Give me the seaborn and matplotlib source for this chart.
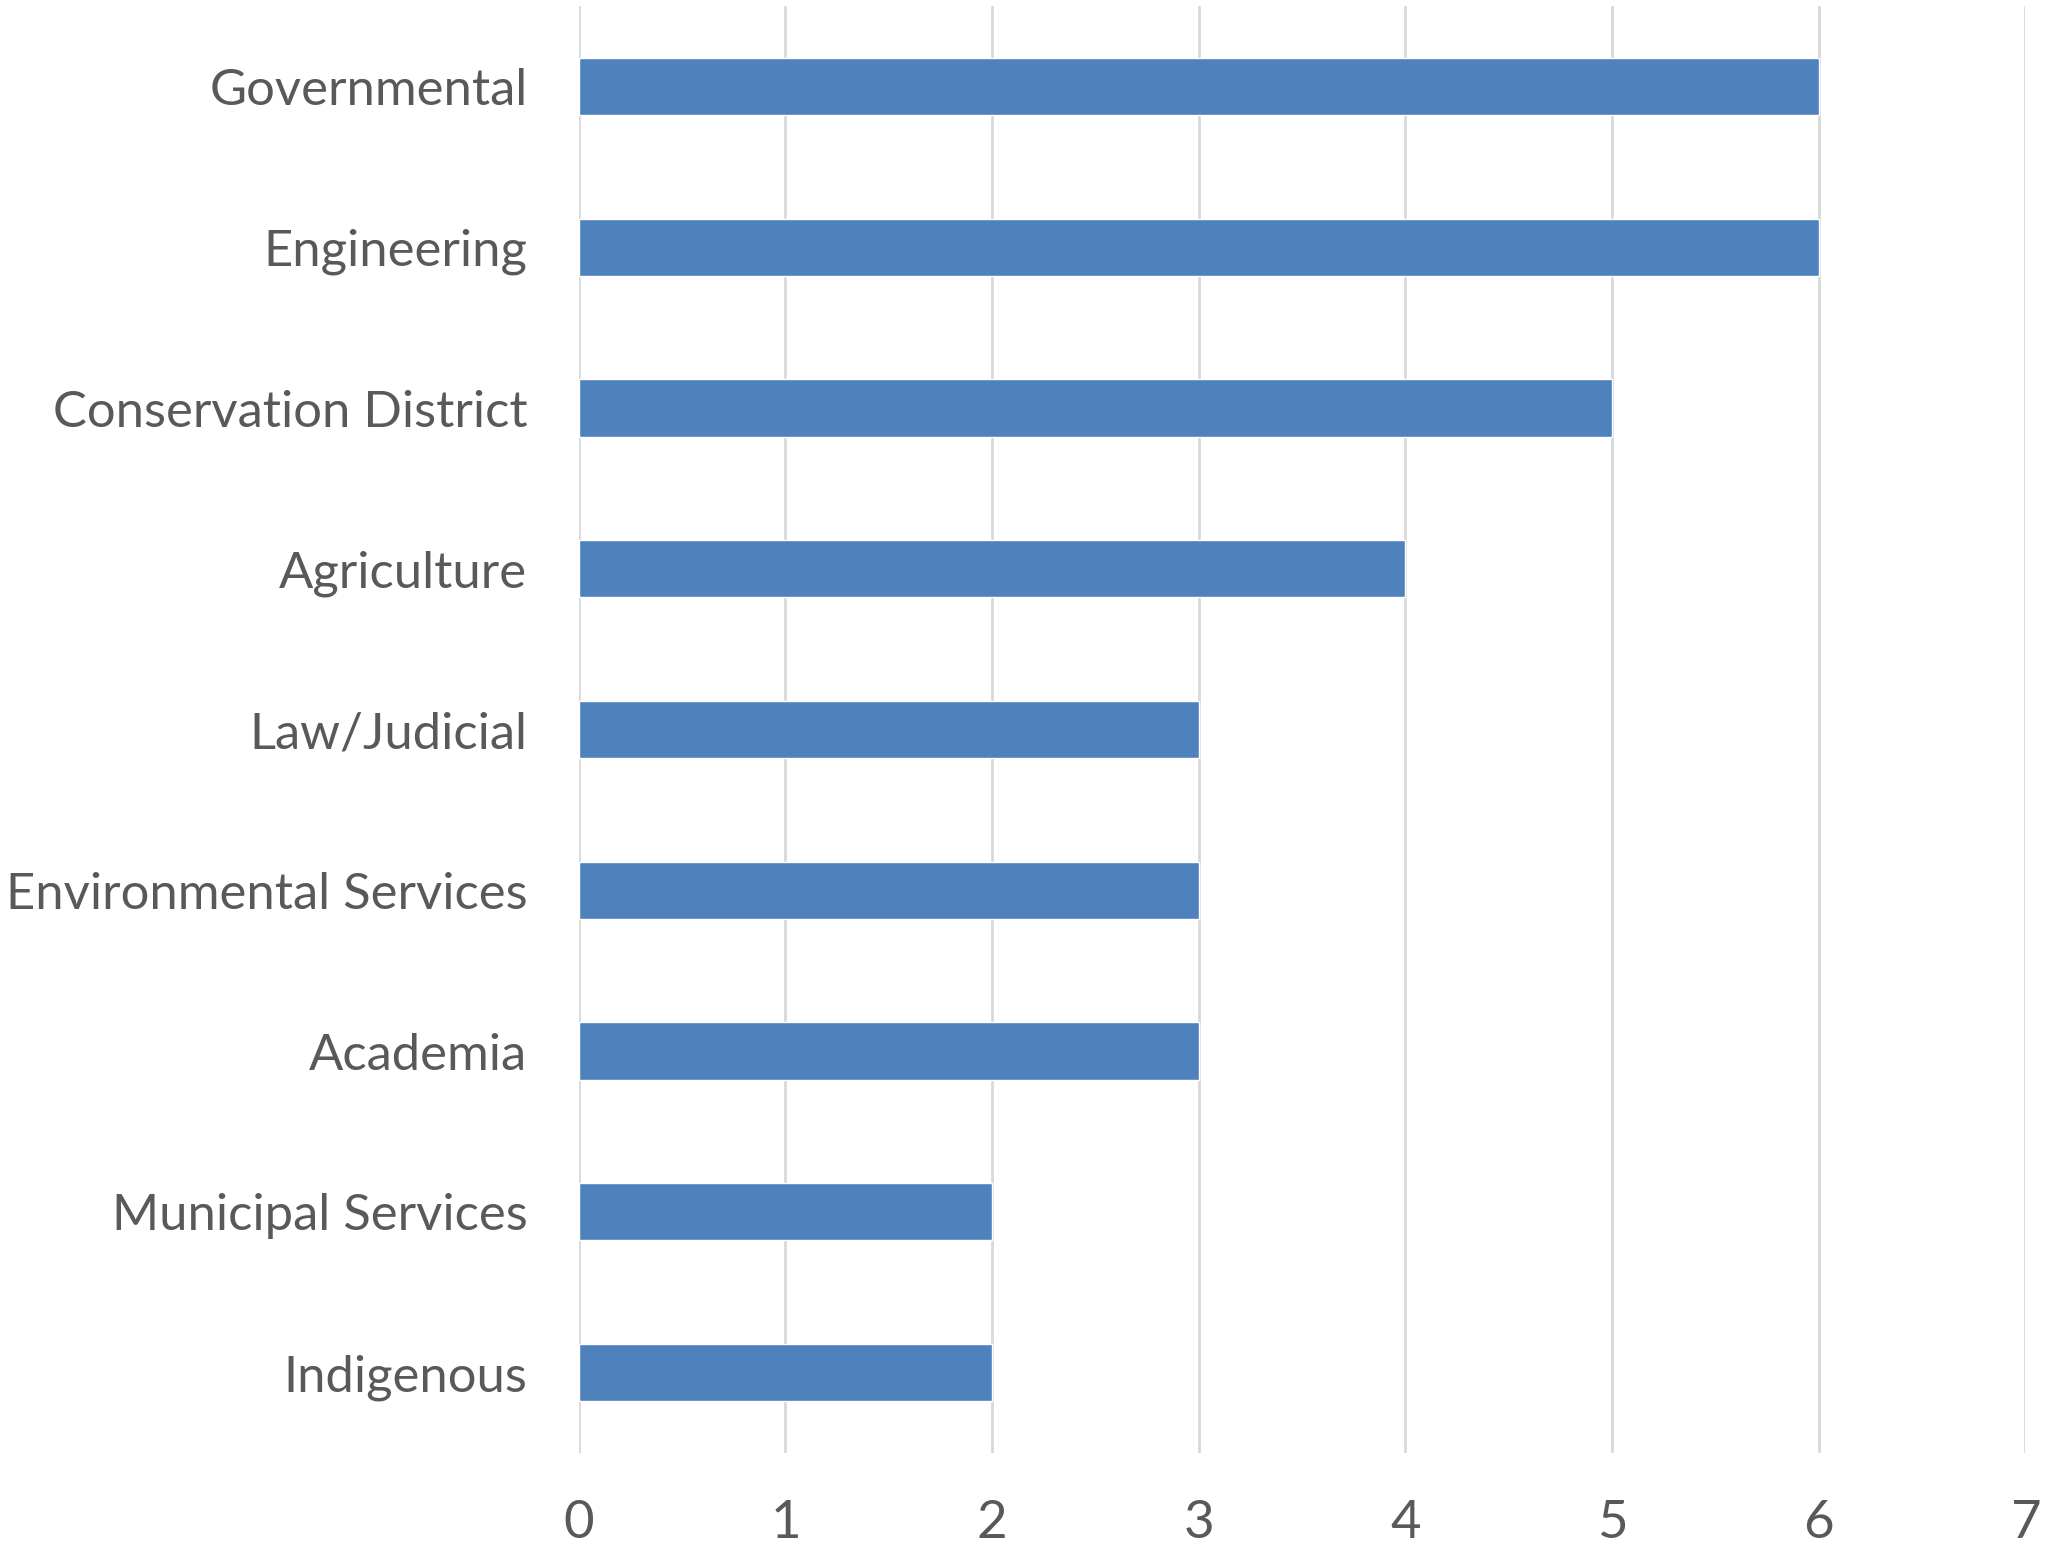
import matplotlib
matplotlib.use("Agg")
import matplotlib.pyplot as plt
import seaborn as sns
import pandas as pd

# Sectors represented and their counts
sectors = [
    "Governmental",
    "Engineering",
    "Conservation District",
    "Agriculture",
    "Law/Judicial",
    "Environmental Services",
    "Academia",
    "Municipal Services",
    "Indigenous",
]
counts = [6, 6, 5, 4, 3, 3, 3, 2, 2]
x_ticks = [0, 1, 2, 3, 4, 5, 6, 7]

df = pd.DataFrame({"sector": sectors, "count": counts})

sns.set_theme(style="white")
plt.rcParams["font.family"] = ["Lato", "DejaVu Sans"]

fig = plt.figure(figsize=(20.49, 15.54), dpi=100)
ax = fig.add_axes([0.2825, 0.065, 0.706, 0.931])

sns.barplot(data=df, x="count", y="sector", orient="h", color="#4F81BD",
            saturation=1, width=0.356, ax=ax)

ax.set_xlim(0, 7)
ax.set_ylim(len(sectors) - 0.5, -0.5)
ax.set_xticks(x_ticks)
ax.set_xticklabels([str(t) for t in x_ticks])
ax.xaxis.grid(True, color="#D9D9D9", linewidth=2)
ax.set_axisbelow(True)
for s in ax.spines.values():
    s.set_visible(False)
ax.set_xlabel("")
ax.set_ylabel("")
ax.tick_params(axis="both", length=0, labelcolor="#595959")
ax.tick_params(axis="y", labelsize=36.5, pad=37)
ax.tick_params(axis="x", labelsize=38, pad=34)

fig.savefig("out.png", dpi=100, facecolor="white")
